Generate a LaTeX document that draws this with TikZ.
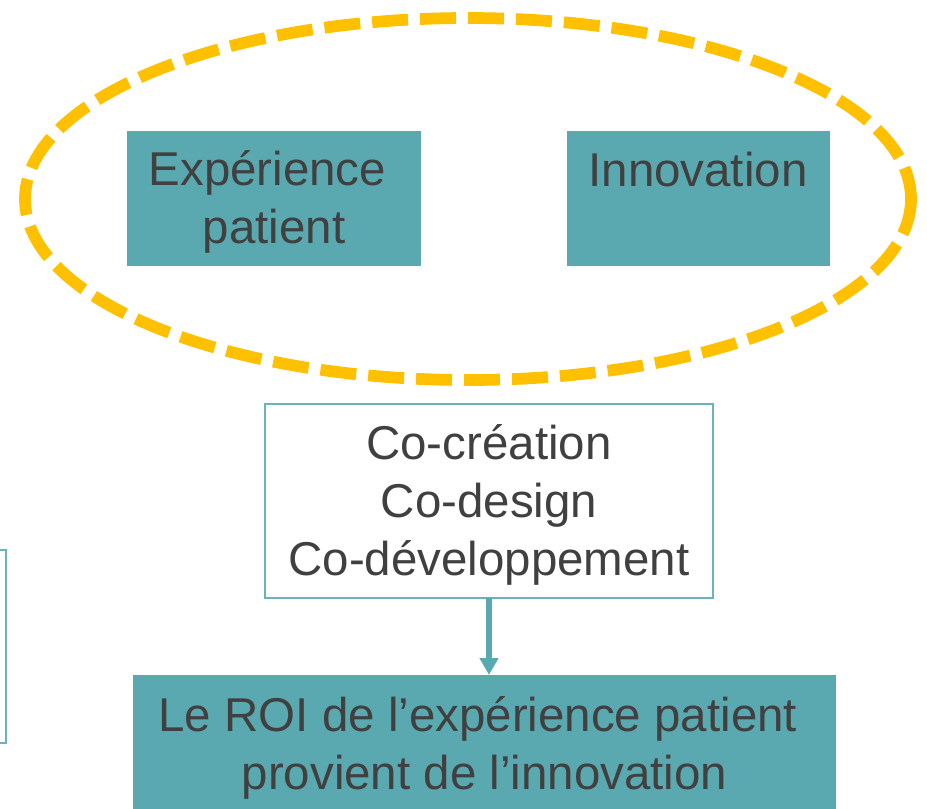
\documentclass[tikz,border=0pt]{standalone}
\usepackage{fontspec}
\setmainfont{Liberation Sans}
\usetikzlibrary{arrows.meta}
\definecolor{tealfill}{HTML}{5BA9B0}
\definecolor{tealline}{HTML}{6AB3B8}
\definecolor{ringgold}{HTML}{FFC000}
\definecolor{inkgray}{HTML}{404040}
\begin{document}
\begin{tikzpicture}[x=0.75pt,y=-0.75pt,
  every node/.style={inner sep=0pt, outer sep=0pt},
  bigtext/.style={font=\fontsize{35.6}{43.4}\selectfont, text=inkgray, align=center},
  tealbox/.style={fill=tealfill, draw=none},
  framebox/.style={fill=white, draw=tealline, line width=1.2pt},
  ring/.style={draw=ringgold, line width=8.8pt, dash pattern=on 27pt off 9pt},
  flow/.style={draw=tealfill, line width=3.8pt,
    -{Triangle[length=12.75pt, width=13.5pt]}}]
\useasboundingbox (0,0) rectangle (927,808);
\clip (0,0) rectangle (927,808);

% dashed ring around the two themes
\draw[ring] (468,199) ellipse [x radius=443, y radius=181];

% the two themes
\node[tealbox, minimum width=220.5pt, minimum height=101.25pt] (exp) at (274,198.5) {};
\node[bigtext] (expText) at (274,202) {Expérience\kern0.28em\\patient};
\node[tealbox, minimum width=197.25pt, minimum height=101.25pt] (inno) at (698.5,198.5) {};
\node[bigtext, anchor=base] (innoText) at (698,186) {Innovation};

% methods box
\node[framebox, minimum width=336pt, minimum height=145.5pt] (co) at (489,501) {};
\node[bigtext] (coText) at (489,505) {Co-création\\Co-design\\Co-développement};

% outcome box
\node[tealbox, minimum width=527.25pt, minimum height=131.25pt] (roi) at (484.5,762.5) {};
\node[bigtext] (roiText) at (484.5,748) {Le ROI de l’expérience patient\kern0.28em\\provient de l’innovation};

% box cut by the left edge
\node[framebox, line width=1.5pt, minimum width=49.5pt, minimum height=144.75pt] (side) at (-27,646.5) {};

% link from methods to outcome
\draw[flow] (co.south) -- (co.south |- roi.north);
\end{tikzpicture}
\end{document}
